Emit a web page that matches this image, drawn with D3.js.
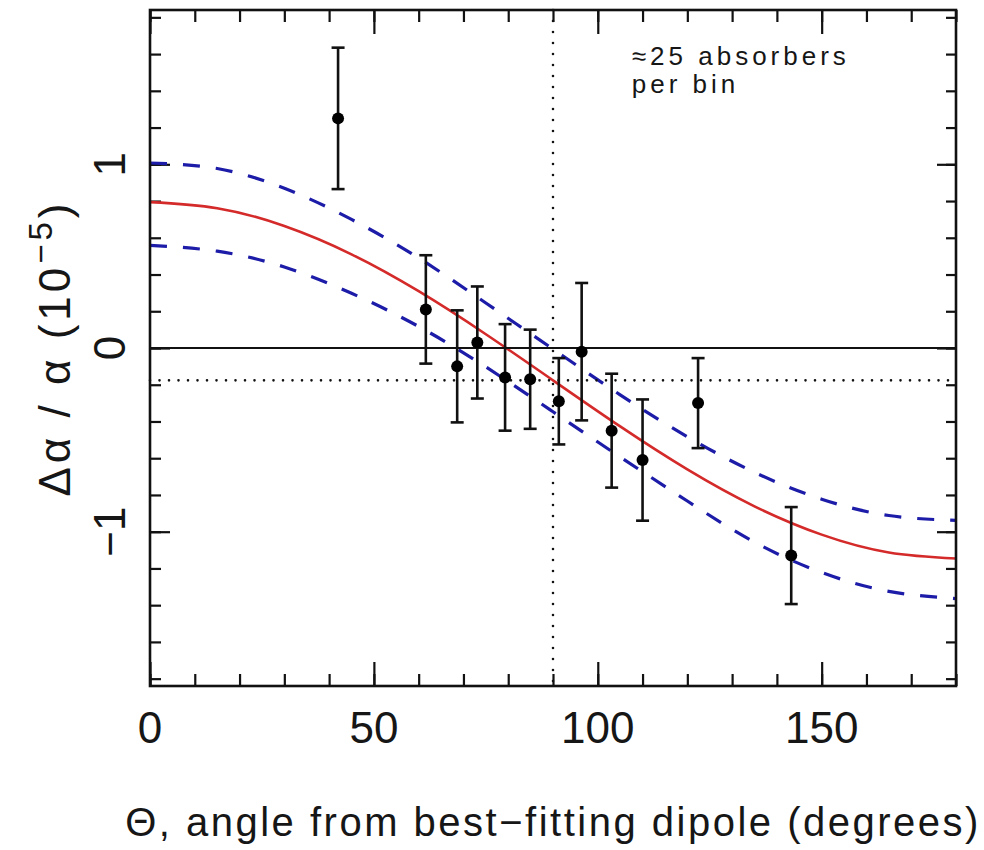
<!DOCTYPE html>
<html>
<head>
<meta charset="utf-8">
<script src="https://cdn.jsdelivr.net/npm/d3@7"></script>
<style>
  body { margin: 0; background: #fff; }
  text { font-family: "Liberation Sans", Arial, sans-serif; fill: #161616; }
</style>
</head>
<body>
<div id="chart"></div>
<script>
var svgWidth = 984;
var svgHeight = 850;

var margin = { top: 10, right: 28, bottom: 164, left: 150 };
var width = svgWidth - margin.left - margin.right;
var height = svgHeight - margin.top - margin.bottom;

// binned measurements
var theta = [42.0, 61.6, 68.6, 73.1, 79.3, 84.9, 91.3, 96.4, 103.1, 110.0, 122.4, 143.2];
var dAlpha = [1.25, 0.21, -0.10, 0.03, -0.16, -0.17, -0.29, -0.02, -0.45, -0.61, -0.30, -1.13];
var dAlphaErr = [0.385, 0.295, 0.305, 0.305, 0.29, 0.27, 0.235, 0.374, 0.31, 0.33, 0.245, 0.264];

// dipole fit and its 1-sigma band
var fitTheta = [0, 15, 30, 45, 60, 75, 90, 105, 120, 135, 150, 165, 180];
var fitMean = [0.794, 0.761, 0.664, 0.510, 0.309, 0.075, -0.176, -0.427, -0.661, -0.862, -1.016, -1.113, -1.146];
var fitUpper = [1.007, 0.977, 0.870, 0.700, 0.490, 0.245, -0.006, -0.255, -0.483, -0.677, -0.823, -0.912, -0.938];
var fitLower = [0.559, 0.527, 0.441, 0.298, 0.117, -0.103, -0.347, -0.593, -0.833, -1.057, -1.222, -1.325, -1.364];

var meanLevel = -0.176;
var dipoleAngle = 90;

var xMajor = [0, 50, 100, 150];
var xMinor = d3.range(0, 181, 10);
var yMajor = [-1, 0, 1];
var yMinor = d3.range(-18, 19, 2).map(d => d / 10);

var svg = d3.select("#chart")
    .append("svg")
    .attr("width", svgWidth)
    .attr("height", svgHeight);

var chartGroup = svg.append("g")
    .attr("transform", `translate(${margin.left}, ${margin.top})`);

var xScale = d3.scaleLinear().domain([0, 180]).range([0, width]);
var yScale = d3.scaleLinear().domain([-1.84, 1.84]).range([height, 0]);

function tickAxis(axis, values, size) {
    return axis.tickValues(values).tickSize(size).tickFormat("");
}

// ticks pointing into the frame on all four sides
var axes = [
    [d3.axisBottom(xScale), `translate(0, ${height})`, xMinor, -12],
    [d3.axisBottom(xScale), `translate(0, ${height})`, xMajor, -24],
    [d3.axisTop(xScale), "translate(0, 0)", xMinor, -12],
    [d3.axisTop(xScale), "translate(0, 0)", xMajor, -24],
    [d3.axisLeft(yScale), "translate(0, 0)", yMinor, -11],
    [d3.axisLeft(yScale), "translate(0, 0)", yMajor, -20],
    [d3.axisRight(yScale), `translate(${width}, 0)`, yMinor, -10],
    [d3.axisRight(yScale), `translate(${width}, 0)`, yMajor, -19]
];

axes.forEach(a => {
    var g = chartGroup.append("g")
        .attr("transform", a[1])
        .call(tickAxis(a[0], a[2], a[3]));
    g.select(".domain").remove();
    g.selectAll("line").attr("stroke", "#111").attr("stroke-width", 2.2);
});

var line = d3.line()
    .x(d => xScale(d[0]))
    .y(d => yScale(d[1]))
    .curve(d3.curveNatural);

var curveGroup = chartGroup.append("g");

[fitUpper, fitLower].forEach(band => {
    curveGroup.append("path")
        .attr("d", line(fitTheta.map((t, i) => [t, band[i]])))
        .attr("fill", "none")
        .attr("stroke", "#1c1ca8")
        .attr("stroke-width", 3.2)
        .attr("stroke-dasharray", "17,16");
});

curveGroup.append("path")
    .attr("d", line(fitTheta.map((t, i) => [t, fitMean[i]])))
    .attr("fill", "none")
    .attr("stroke", "#d42a2a")
    .attr("stroke-width", 2.6);

// reference lines
chartGroup.append("line")
    .attr("x1", 0).attr("x2", width)
    .attr("y1", yScale(0)).attr("y2", yScale(0))
    .attr("stroke", "#111").attr("stroke-width", 2.2);

chartGroup.append("line")
    .attr("x1", 0).attr("x2", width)
    .attr("y1", yScale(meanLevel)).attr("y2", yScale(meanLevel))
    .attr("stroke", "#111").attr("stroke-width", 2.6)
    .attr("stroke-linecap", "round")
    .attr("stroke-dasharray", "0,9.5");

chartGroup.append("line")
    .attr("x1", xScale(dipoleAngle)).attr("x2", xScale(dipoleAngle))
    .attr("y1", 0).attr("y2", height)
    .attr("stroke", "#111").attr("stroke-width", 2.6)
    .attr("stroke-linecap", "round")
    .attr("stroke-dasharray", "0,11");

// error bars and points
var points = theta.map((t, i) => ({ x: t, y: dAlpha[i], e: dAlphaErr[i] }));
var barGroup = chartGroup.append("g").attr("stroke", "#111").attr("stroke-width", 2.6);

barGroup.selectAll(".err")
    .data(points)
    .enter()
    .append("line")
        .attr("x1", d => xScale(d.x)).attr("x2", d => xScale(d.x))
        .attr("y1", d => yScale(d.y + d.e)).attr("y2", d => yScale(d.y - d.e));

barGroup.selectAll(".capTop")
    .data(points)
    .enter()
    .append("line")
        .attr("x1", d => xScale(d.x) - 6.5).attr("x2", d => xScale(d.x) + 6.5)
        .attr("y1", d => yScale(d.y + d.e)).attr("y2", d => yScale(d.y + d.e));

barGroup.selectAll(".capBottom")
    .data(points)
    .enter()
    .append("line")
        .attr("x1", d => xScale(d.x) - 6.5).attr("x2", d => xScale(d.x) + 6.5)
        .attr("y1", d => yScale(d.y - d.e)).attr("y2", d => yScale(d.y - d.e));

chartGroup.selectAll("circle")
    .data(points)
    .enter()
    .append("circle")
        .attr("cx", d => xScale(d.x))
        .attr("cy", d => yScale(d.y))
        .attr("r", 6)
        .attr("fill", "#000");

// frame
chartGroup.append("rect")
    .attr("width", width)
    .attr("height", height)
    .attr("fill", "none")
    .attr("stroke", "#111")
    .attr("stroke-width", 2.6);

// tick labels
chartGroup.selectAll(".xlabel")
    .data(xMajor)
    .enter()
    .append("text")
        .attr("x", d => xScale(d))
        .attr("y", height + 57)
        .attr("text-anchor", "middle")
        .attr("font-size", 44)
        .text(d => d);

chartGroup.selectAll(".ylabel")
    .data(yMajor)
    .enter()
    .append("text")
        .attr("transform", d => `translate(-25, ${yScale(d)}) rotate(-90)`)
        .attr("text-anchor", "middle")
        .attr("font-size", 44)
        .text(d => d < 0 ? "\u2212" + Math.abs(d) : d);

// axis titles
var yTitle = chartGroup.append("text")
    .attr("transform", `translate(-80, ${height / 2}) rotate(-90)`)
    .attr("text-anchor", "middle")
    .attr("font-size", 44)
    .attr("letter-spacing", 4);
yTitle.append("tspan").text("\u0394\u03b1 / \u03b1  (10");
yTitle.append("tspan").attr("dy", -18).attr("font-size", 33).text("\u22125");
yTitle.append("tspan").attr("dy", 18).text(")");

chartGroup.append("text")
    .attr("x", width / 2)
    .attr("y", height + 150)
    .attr("text-anchor", "middle")
    .attr("font-size", 40)
    .attr("letter-spacing", 2.5)
    .text("\u0398, angle from best\u2212fitting dipole (degrees)");

// annotation
var note = chartGroup.append("text")
    .attr("x", xScale(107.6))
    .attr("y", 55)
    .attr("font-size", 26)
    .attr("letter-spacing", 4);
note.append("tspan").text("\u224825 absorbers");
note.append("tspan").attr("x", xScale(107.6)).attr("dy", 28).text("per bin");
</script>
</body>
</html>
